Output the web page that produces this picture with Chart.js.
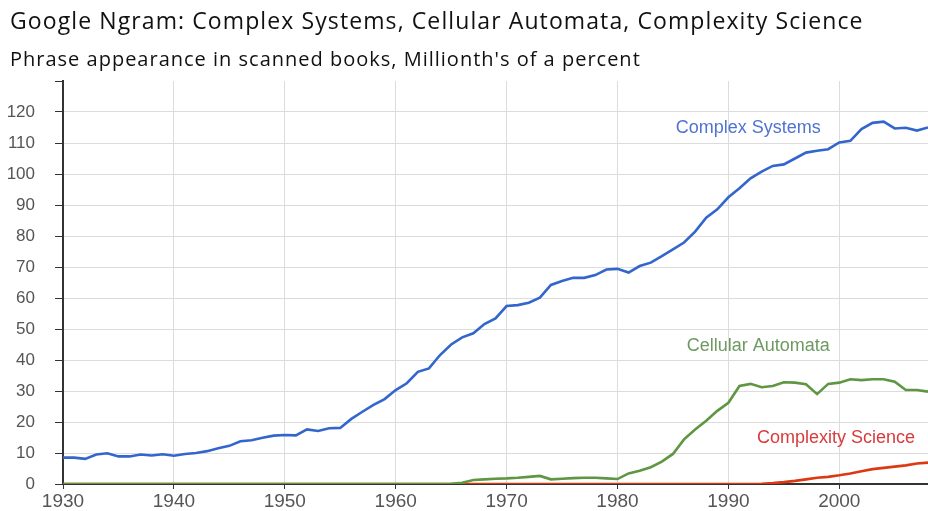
<!DOCTYPE html>
<html>
<head>
<meta charset="utf-8">
<script src="https://cdn.jsdelivr.net/npm/chart.js@4"></script>
<style>
    html, body { margin: 0; padding: 0; background: #fff; }
    #wrap { position: relative; width: 928px; height: 511px; overflow: hidden; }
    #title, #subtitle { position: absolute; left: 10px; font-family: 'Open Sans', sans-serif; color: #111; white-space: nowrap; }
    #title { top: 4px; font-size: 23px; letter-spacing: 1.1px; }
    #subtitle { top: 45px; font-size: 20px; letter-spacing: 1px; }
    canvas { position: absolute; left: 0; top: 0; }
</style>
</head>
<body>
<div id="wrap">
    <canvas id="ngramChart" width="928" height="511"></canvas>
    <div id="title">Google Ngram: Complex Systems, Cellular Automata, Complexity Science</div>
    <div id="subtitle">Phrase appearance in scanned books, Millionth's of a percent</div>
</div>
<script>
// Years 1930 - 2008, one value per year (millionths of a percent)
const years = [];
for (let y = 1930; y <= 2008; y++) years.push(y);

const complexSystems = [
    8.5, 8.5, 8.1, 9.5, 9.9, 8.9, 8.9, 9.5, 9.2, 9.6,          // 1930s
    9.1, 9.7, 10.0, 10.6, 11.5, 12.3, 13.8, 14.1, 14.9, 15.6,  // 1940s
    15.8, 15.7, 17.6, 17.1, 18.0, 18.1, 21.0, 23.3, 25.5, 27.4, // 1950s
    30.3, 32.5, 36.2, 37.3, 41.6, 45.0, 47.3, 48.6, 51.6, 53.4, // 1960s
    57.4, 57.7, 58.5, 60.1, 64.2, 65.5, 66.5, 66.5, 67.4, 69.2, // 1970s
    69.4, 68.2, 70.3, 71.4, 73.5, 75.7, 77.9, 81.4, 85.9, 88.6, // 1980s
    92.5, 95.4, 98.6, 100.8, 102.6, 103.1, 105.0, 106.9, 107.5, 108.0, // 1990s
    110.2, 110.7, 114.5, 116.5, 116.9, 114.7, 114.9, 114.0, 115.0      // 2000s
];

const cellularAutomata = [
    0, 0, 0, 0, 0, 0, 0, 0, 0, 0,
    0, 0, 0, 0, 0, 0, 0, 0, 0, 0,
    0, 0, 0, 0, 0, 0, 0, 0, 0, 0,
    0, 0, 0, 0, 0, 0.1, 0.4, 1.3, 1.5, 1.7,
    1.8, 2.0, 2.3, 2.6, 1.5, 1.7, 1.9, 2.0, 2.0, 1.8,
    1.6, 3.4, 4.3, 5.4, 7.2, 9.7, 14.4, 17.6, 20.4, 23.6,
    26.2, 31.6, 32.3, 31.2, 31.6, 32.8, 32.7, 32.2, 29.0, 32.3,
    32.7, 33.8, 33.5, 33.8, 33.8, 33.0, 30.3, 30.3, 29.8
];

const complexityScience = [
    0, 0, 0, 0, 0, 0, 0, 0, 0, 0,
    0, 0, 0, 0, 0, 0, 0, 0, 0, 0,
    0, 0, 0, 0, 0, 0, 0, 0, 0, 0,
    0, 0, 0, 0, 0, 0, 0, 0, 0, 0,
    0, 0, 0, 0, 0, 0, 0, 0, 0, 0,
    0, 0, 0, 0, 0, 0, 0, 0, 0, 0,
    0, 0, 0, 0.1, 0.3, 0.6, 1.0, 1.5, 2.0, 2.3,
    2.8, 3.4, 4.1, 4.8, 5.2, 5.6, 6.0, 6.6, 6.9
];

// Inline series labels: [text, year, value]
const seriesLabels = [
    ['Complex Systems', 1991.8, 114.8],
    ['Cellular Automata', 1992.7, 44.5],
    ['Complexity Science', 1999.7, 14.8]
];
const lineColors = ['#3366cc', '#5e9641', '#dc3912'];
const labelColors = ['#4f73d1', '#6e9a60', '#d93b3b'];

const toPoints = arr => arr.map((v, i) => ({ x: years[i], y: v }));

// draws the series names inside the plot at data coordinates
const seriesLabelPlugin = {
    id: 'seriesLabels',
    afterDatasetsDraw(chart) {
        const { ctx, scales } = chart;
        ctx.save();
        ctx.font = '18px Arial, "Liberation Sans", sans-serif';
        ctx.textAlign = 'center';
        ctx.textBaseline = 'middle';
        seriesLabels.forEach((l, i) => {
            ctx.fillStyle = labelColors[i];
            ctx.fillText(l[0], scales.x.getPixelForValue(l[1]), scales.y.getPixelForValue(l[2]));
        });
        ctx.restore();
    }
};

const ctx = document.getElementById('ngramChart').getContext('2d');
new Chart(ctx, {
    type: 'line',
    data: {
        datasets: [
            { label: 'Complex Systems', data: toPoints(complexSystems), borderColor: lineColors[0] },
            { label: 'Cellular Automata', data: toPoints(cellularAutomata), borderColor: lineColors[1] },
            { label: 'Complexity Science', data: toPoints(complexityScience), borderColor: lineColors[2] }
        ]
    },
    options: {
        responsive: false,
        animation: false,
        layout: { padding: { top: 81, left: 0, right: 0, bottom: 0 } },
        elements: {
            point: { radius: 0 },
            line: { borderWidth: 2.6, tension: 0 }
        },
        plugins: {
            legend: { display: false },
            tooltip: { enabled: false }
        },
        scales: {
            x: {
                type: 'linear',
                min: 1930,
                max: 2008,
                afterFit: s => { s.height = 27; },
                border: { color: '#333', width: 2 },
                grid: { color: '#dcdcdc', tickColor: '#333', tickLength: 5 },
                ticks: {
                    stepSize: 10,
                    includeBounds: false,
                    padding: 1,
                    color: '#555',
                    font: { family: 'Arial, "Liberation Sans", sans-serif', size: 19 },
                    maxRotation: 0,
                    callback: v => String(v)
                }
            },
            y: {
                min: 0,
                max: 130,
                // fixed axis width; drop the label overflow padding so the plot reaches the x axis
                afterFit: s => { s.width = 63; s.paddingTop = 0; s.paddingBottom = 0; },
                border: { color: '#333', width: 2 },
                grid: {
                    color: c => (c.tick && c.tick.value === 130) ? 'rgba(0,0,0,0)' : '#dcdcdc',
                    tickColor: '#333',
                    tickLength: 8
                },
                ticks: {
                    stepSize: 10,
                    padding: 20,
                    color: '#555',
                    font: { family: 'Arial, "Liberation Sans", sans-serif', size: 17 },
                    callback: v => v === 130 ? '' : String(v)
                }
            }
        }
    },
    plugins: [seriesLabelPlugin]
});
</script>
</body>
</html>
